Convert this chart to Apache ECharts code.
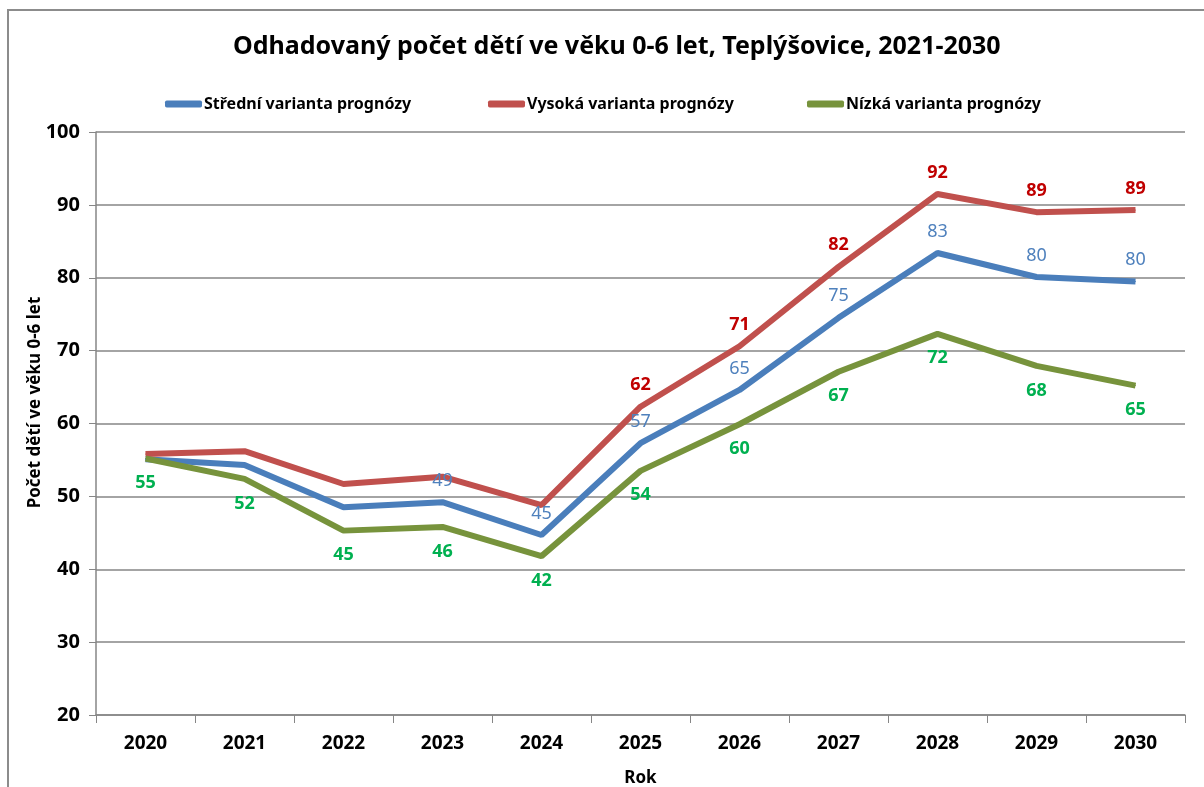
<!DOCTYPE html>
<html>
<head>
<meta charset="utf-8">
<script src="https://cdn.jsdelivr.net/npm/echarts@6/dist/echarts.min.js"></script>
<style>
  html, body { margin: 0; padding: 0; background: #fff; }
  #chart { width: 1204px; height: 787px; }
</style>
</head>
<body>
<div id="chart"></div>
<script>
// roky na ose x
var years = ['2020', '2021', '2022', '2023', '2024', '2025', '2026', '2027', '2028', '2029', '2030'];

// odhady
var stredni = [55.1, 54.3, 48.5, 49.2, 44.7, 57.3, 64.6, 74.5, 83.4, 80.1, 79.5];
var vysoka  = [55.8, 56.2, 51.7, 52.7, 48.8, 62.3, 70.6, 81.5, 91.5, 89.0, 89.3];
var nizka   = [55.2, 52.4, 45.3, 45.8, 41.8, 53.5, 59.9, 67.1, 72.3, 67.9, 65.2];

// roky, u kterých je v originále popisek hodnoty
var stredniPopisky = ['2023', '2024', '2025', '2026', '2027', '2028', '2029', '2030'];
var vysokaPopisky  = ['2025', '2026', '2027', '2028', '2029', '2030'];
var nizkaPopisky   = years;

var seriesNames = ['Střední varianta prognózy', 'Vysoká varianta prognózy', 'Nízká varianta prognózy'];

var font = 'Noto Sans';
var myChart = echarts.init(document.getElementById('chart'));

function legendAt(name, left) {
  return {
    left: left,
    top: 91,
    data: [name],
    icon: 'roundRect',
    itemWidth: 37,
    itemHeight: 7,
    itemGap: 0,
    textStyle: { color: '#000', fontFamily: font, fontWeight: 'bold', fontSize: 16, padding: [0, 0, 0, -3] }
  };
}

function lineSeries(name, data, shown, color, labelColor, pos, bold) {
  return {
    name: name,
    type: 'line',
    data: data.map(function (v, i) {
      return { value: v, label: { show: shown.indexOf(years[i]) >= 0 } };
    }),
    symbol: 'circle',
    symbolSize: 1,
    lineStyle: { width: 6, color: color },
    itemStyle: { color: color },
    label: {
      show: true,
      position: pos,
      distance: pos === 'top' ? 12 : 15,
      color: labelColor,
      fontFamily: font,
      fontWeight: bold ? 'bold' : 'normal',
      fontSize: 18,
      formatter: function (p) { return Math.round(p.value); }
    },
    emphasis: { disabled: true }
  };
}

myChart.setOption({
  animation: false,
  title: {
    text: 'Odhadovaný počet dětí ve věku 0-6 let, Teplýšovice, 2021-2030',
    left: 228,
    top: 29,
    textStyle: { color: '#000', fontFamily: font, fontWeight: 'bold', fontSize: 25 }
  },
  legend: [
    legendAt(seriesNames[0], 160),
    legendAt(seriesNames[1], 483),
    legendAt(seriesNames[2], 802)
  ],
  graphic: [{
    type: 'rect',
    shape: { x: 8, y: 10, width: 1210, height: 800 },
    style: { fill: 'none', stroke: '#8c8c8c', lineWidth: 2 },
    silent: true
  }],
  grid: { left: 96, right: 19, top: 132, bottom: 72, outerBoundsMode: 'none' },
  xAxis: {
    type: 'category',
    data: years,
    boundaryGap: true,
    name: 'Rok',
    nameLocation: 'middle',
    nameGap: 55,
    nameMoveOverlap: false,
    nameTextStyle: { color: '#000', fontFamily: font, fontWeight: 'bold', fontSize: 17 },
    axisLine: { lineStyle: { color: '#868686', width: 1.5 } },
    axisTick: { show: true, alignWithLabel: false, length: 8, lineStyle: { color: '#868686' } },
    axisLabel: { color: '#000', fontFamily: font, fontWeight: 'bold', fontSize: 19, margin: 19 }
  },
  yAxis: {
    type: 'value',
    min: 20,
    max: 100,
    interval: 10,
    name: 'Počet dětí ve věku 0-6 let',
    nameLocation: 'middle',
    nameGap: 52,
    nameMoveOverlap: false,
    nameTextStyle: { color: '#000', fontFamily: font, fontWeight: 'bold', fontSize: 17, padding: [0, 0, 0, 42] },
    axisLine: { show: true, lineStyle: { color: '#868686', width: 1.5 } },
    axisTick: { show: true, length: 7, lineStyle: { color: '#868686' } },
    axisLabel: { color: '#000', fontFamily: font, fontWeight: 'bold', fontSize: 20, margin: 16 },
    splitLine: { lineStyle: { color: '#868686', width: 1.5 } }
  },
  series: [
    lineSeries(seriesNames[0], stredni, stredniPopisky, '#4a7ebb', '#4f81bd', 'top', false),
    lineSeries(seriesNames[1], vysoka, vysokaPopisky, '#c0504d', '#c00000', 'top', true),
    lineSeries(seriesNames[2], nizka, nizkaPopisky, '#77933c', '#00b050', 'bottom', true)
  ]
});
</script>
</body>
</html>
